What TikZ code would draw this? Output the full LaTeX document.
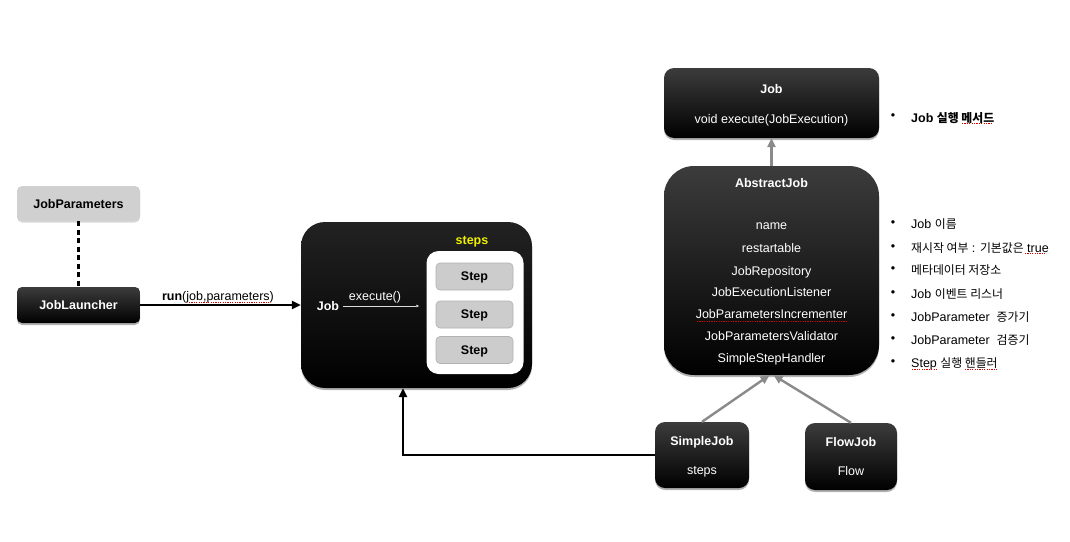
\documentclass[tikz,border=0pt]{standalone}
\usepackage{fontspec}
\setmainfont{Liberation Sans}
\newfontfamily\kr[Scale=0.95]{Noto Sans CJK KR}
\usetikzlibrary{arrows.meta,shadows,positioning}
\definecolor{dk}{RGB}{60,60,60}
\definecolor{dkb}{RGB}{34,34,34}
\definecolor{lgray}{RGB}{208,208,208}
\definecolor{stepgray}{RGB}{204,204,204}
\definecolor{stepborder}{RGB}{178,178,178}
\definecolor{arrgray}{RGB}{138,138,138}
\definecolor{ylw}{RGB}{240,240,0}
\tikzset{
  fs/.style={font=\fontsize{12.5}{15}\selectfont, text depth=0pt},
  fsb/.style={font=\fontsize{12.5}{15}\selectfont\bfseries, text depth=0pt},
  darkbox/.style={rectangle, top color=dk, middle color=black, bottom color=black, draw=none,
     drop shadow={shadow xshift=0pt, shadow yshift=-2pt, opacity=.3, fill=black}},
  blackbox/.style={rectangle, top color=dkb, middle color=black, bottom color=black, draw=none,
     drop shadow={shadow xshift=0pt, shadow yshift=-2pt, opacity=.3, fill=black}},
  lbl/.style={inner sep=0pt, text=white, fs},
  lblb/.style={inner sep=0pt, text=white, fsb},
  stepbox/.style={rectangle, rounded corners=4pt, fill=stepgray, draw=stepborder, line width=0.6pt,
     minimum width=77pt, minimum height=27pt, inner sep=0pt, fsb},
  blackarrow/.style={line width=2.4pt, -{Triangle[length=9pt,width=8pt]}},
  grayarrow/.style={line width=2.4pt, draw=arrgray, -{Triangle[length=9pt,width=8pt,fill=arrgray]}},
  bul/.style={inner sep=0pt, fs, anchor=center},
  btxt/.style={inner sep=0pt, fs, anchor=west},
  spell/.style={draw=red!85!black, line width=1pt, dash pattern=on 1.2pt off 1.2pt},
}
\begin{document}
\begin{tikzpicture}[x=1pt,y=-1pt]
\useasboundingbox (0,0) rectangle (1070,541);
\fill[white] (0,0) rectangle (1070,541);

% left side
\node[rectangle, rounded corners=5pt, fill=lgray, minimum width=123pt, minimum height=35pt, inner sep=0pt, fsb,
  drop shadow={shadow xshift=0pt, shadow yshift=-1.5pt, opacity=.15, fill=black}]
  (params) at (78.5,203.5) {JobParameters};
\node[darkbox, rounded corners=5pt, minimum width=123pt, minimum height=36pt, inner sep=0pt, fsb, text=white]
  (launcher) at (78.5,305) {JobLauncher};

% big Job box
\node[blackbox, rounded corners=24pt, minimum width=231pt, minimum height=166pt] (bigjob) at (416.5,305) {};
\node[rectangle, rounded corners=12pt, fill=white, minimum width=97pt, minimum height=123pt] (wbox) at (475,312.5) {};
\node[stepbox] (s1) at (474.5,276.5) {Step};
\node[stepbox] (s2) at (474.5,314.5) {Step};
\node[stepbox] (s3) at (474.5,350) {Step};
\node[inner sep=0pt, fsb, text=ylw] (stepslbl) at (472,240) {steps};
\node[lblb] (jobtxt) at (328,306) {Job};
\node[lbl] (exectxt) at (375,295.5) {execute()};
\draw[white!85!black, line width=0.7pt, -{Triangle[length=3pt,width=2.5pt]}] ([xshift=4pt]jobtxt.east) -- ([xshift=-7pt]wbox.west |- jobtxt.east);

% run arrow
\draw[blackarrow] (launcher.east) -- (bigjob.west);
\node[inner sep=0pt, fs] (runlbl) at (218,295.5) {\textbf{run}(job,parameters)};
\draw[spell] (189,302.5) -- (269,302.5);
\draw[line width=2.6pt, dash pattern=on 5pt off 3.5pt] (params.south) -- (launcher.north);

% top Job
\node[darkbox, rounded corners=10pt, minimum width=215pt, minimum height=70pt] (topjob) at (771.5,103) {};
\node[lblb] (tjt) at (771.5,89) {Job};
\node[lbl] (tje) at (771.5,118.5) {void execute(JobExecution)};

% AbstractJob
\node[darkbox, rounded corners=30pt, minimum width=215pt, minimum height=209pt] (abstract) at (771.5,270.5) {};
\node[lblb] (abt) at (771.5,183) {AbstractJob};
\node[lbl] (a1) at (771.5,226) {name};
\node[lbl] (a2) at (771.5,248) {restartable};
\node[lbl] (a3) at (771.5,270.5) {JobRepository};
\node[lbl] (a4) at (771.5,292) {JobExecutionListener};
\node[lbl] (a5) at (771.5,314) {JobParametersIncrementer};
\node[lbl] (a6) at (771.5,336) {JobParametersValidator};
\node[lbl] (a7) at (771.5,358) {SimpleStepHandler};
\draw[spell] (697,321) -- (846,321);

\draw[grayarrow] (abstract.north) -- (topjob.south);

% bullets
\node[bul] (b0) at (893,117) {•};
\node[btxt, fsb] (t0) at (911,117) {Job {\kr 실행 메서드}};
\node[bul] (b1) at (893,224) {•};
\node[btxt] (t1) at (911,224) {Job {\kr 이름}};
\node[bul] (b2) at (893,247.5) {•};
\node[btxt] (t2) at (911,247.5) {{\kr 재시작 여부} : {\kr 기본값은} true};
\node[bul] (b3) at (893,270) {•};
\node[btxt] (t3) at (911,270) {{\kr 메타데이터 저장소}};
\node[bul] (b4) at (893,293.5) {•};
\node[btxt] (t4) at (911,293.5) {Job {\kr 이벤트 리스너}};
\node[bul] (b5) at (893,317) {•};
\node[btxt] (t5) at (911,317) {JobParameter\ \ {\kr 증가기}};
\node[bul] (b6) at (893,340) {•};
\node[btxt] (t6) at (911,340) {JobParameter\ \ {\kr 검증기}};
\node[bul] (b7) at (893,363) {•};
\node[btxt] (t7) at (911,363) {Step {\kr 실행 핸들러}};
\draw[spell] (962,123.5) -- (993,123.5);
\draw[spell] (1025,253.5) -- (1046,253.5);
\draw[spell] (912,369) -- (938,369);
\draw[spell] (965,369) -- (998,369);

% SimpleJob / FlowJob
\node[darkbox, rounded corners=10pt, minimum width=94pt, minimum height=66pt] (simplejob) at (702,455) {};
\node[lblb] (sjt) at (702,441) {SimpleJob};
\node[lbl] (sjs) at (702,470) {steps};
\node[darkbox, rounded corners=10pt, minimum width=92pt, minimum height=67pt] (flowjob) at (851,456.5) {};
\node[lblb] (fjt) at (851,442) {FlowJob};
\node[lbl] (fjf) at (851,471) {Flow};

\draw[grayarrow] (simplejob.north) -- ([xshift=-2pt]abstract.south);
\draw[grayarrow] (flowjob.north) -- ([xshift=2pt]abstract.south);

\draw[blackarrow] (simplejob.west) -| ([xshift=-13.5pt]bigjob.south);
\end{tikzpicture}
\end{document}
